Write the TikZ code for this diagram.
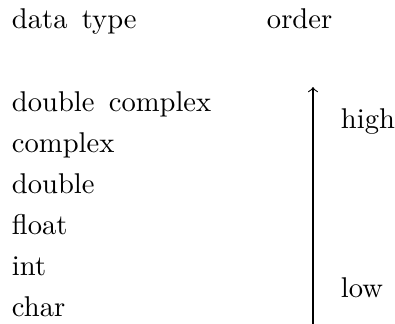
\documentclass[tikz,border=0pt]{standalone}
\begin{document}
\begin{tikzpicture}[x=0.35pt,y=-0.35pt,
  lbl/.style={anchor=base west,inner sep=0pt,outer sep=0pt}]
\useasboundingbox (0,0) rectangle (395,324);
% column headings
\node[lbl] (hdtype) at (12,28) {data\hspace{0.5em}type};
\node[lbl] (horder) at (267,28) {order};
% data types, highest order first
\node[lbl] (dc) at (12,111) {double\hspace{0.5em}complex};
\node[lbl] (cx) at (12,152) {complex};
\node[lbl] (db) at (12,193) {double};
\node[lbl] (fl) at (12,234) {float};
\node[lbl] (in) at (12,275) {int};
\node[lbl] (ch) at (12,316) {char};
% order axis
\coordinate (abot) at (313,324);
\coordinate (atop) at (313,87);
\draw[->] (abot) -- (atop);
\node[lbl] (hi) at (341,128) {high};
\node[lbl] (lo) at (341,297) {low};
\end{tikzpicture}
\end{document}
